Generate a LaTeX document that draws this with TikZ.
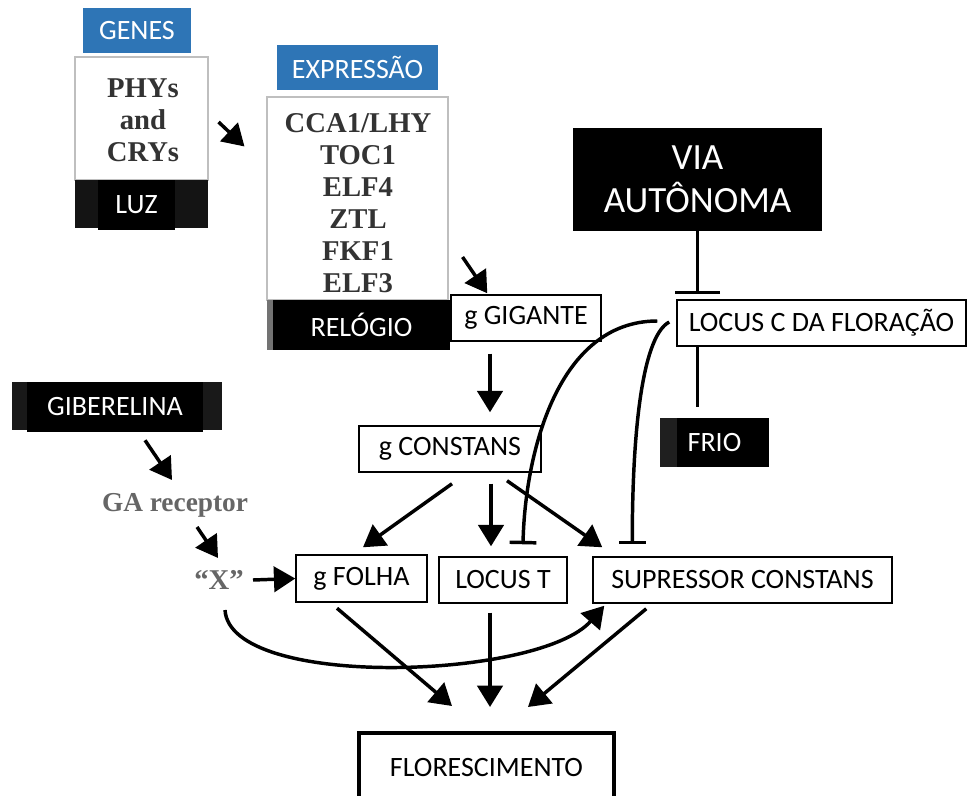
\documentclass[tikz,border=0pt]{standalone}
\usepackage{fontspec}
\setmainfont{Carlito}
\newfontfamily\timesfont{Liberation Serif}
\usetikzlibrary{arrows.meta,calc}
\definecolor{wordblue}{RGB}{46,117,182}
\begin{document}
\begin{tikzpicture}[x=0.75pt,y=-0.75pt,
  every node/.style={inner sep=0pt,font=\fontsize{21}{25}\selectfont},
  sz/.style 2 args={minimum width=#1,minimum height=#2},
  bluebox/.style={fill=wordblue,text=white},
  darkbox/.style={fill=black,text=white},
  genebox/.style={draw=black,line width=1.1pt,fill=white},
  listbox/.style={draw=black!25,line width=0.8pt,fill=white},
  serif/.style={font=\timesfont\bfseries\fontsize{21.5}{24}\selectfont,text=black!80,align=center},
  arr/.style={line width=2.6pt,-{Triangle[length=16pt,width=19pt]}},
  inh/.style={line width=2.6pt,-{Bar[width=#1]}},
  inh/.default=20pt]
\useasboundingbox (0,0) rectangle (968,796);
\clip (0,0) rectangle (968,796);

\node[bluebox,sz={81pt}{33.75pt}] (genes) at (137,30.5) {GENES};
\node[listbox,sz={99.75pt}{92.25pt}] (phybox) at (141.5,118.5) {};
\node[serif] (phy) at (143,120) {PHYs\\and\\CRYs};
\node[fill=black!92,sz={99.75pt}{36pt}] (luzband) at (141.5,204) {};
\node[darkbox,sz={57.75pt}{37.5pt}] (luz) at (136.5,205) {LUZ};

\node[bluebox,sz={120.75pt}{33.75pt}] (expressao) at (357.5,67.5) {EXPRESSÃO};
\node[listbox,sz={135.75pt}{152.25pt}] (exprbox) at (357.5,198.5) {};
\node[serif] (clock) at (358,203) {CCA1/LHY\\TOC1\\ELF4\\ZTL\\FKF1\\ELF3};
\node[fill=black!55,sz={137.25pt}{37.5pt}] (relogioband) at (358.5,325) {};
\node[darkbox,sz={132.75pt}{37.5pt}] (relogio) at (361.5,325) {RELÓGIO};

\node[genebox,sz={112.5pt}{34.5pt}] (gigante) at (526,318) {g GIGANTE};
\node[darkbox,sz={186.75pt}{77.25pt},align=center,font=\fontsize{27.75}{32}\selectfont] (via) at (697.5,179.5) {VIA\\AUTÔNOMA};
\node[genebox,sz={216.75pt}{34.5pt}] (locusc) at (821.5,323) {LOCUS C DA FLORAÇÃO};
\node[darkbox,sz={81.75pt}{36.75pt}] (frio) at (714.5,442.5) {FRIO};
\node[fill=black!88,sz={12.75pt}{36.75pt},anchor=west] (frioedge) at (frio.west) {};

\node[fill=black!90,sz={157.5pt}{36pt}] (gibband) at (117,406) {};
\node[darkbox,sz={132pt}{37.5pt}] (gib) at (115,407) {GIBERELINA};
\node[serif,text=black!60,font=\timesfont\bfseries\fontsize{20.5}{24}\selectfont] (garec) at (175,505) {GA receptor};
\node[serif,text=black!60] (xnode) at (219,580) {“X”};

\node[genebox,sz={136.5pt}{34.5pt}] (constans) at (450,449) {g CONSTANS};
\node[genebox,sz={98.25pt}{35.25pt}] (folha) at (361.5,578.5) {g FOLHA};
\node[genebox,sz={96pt}{34.5pt}] (locust) at (503,580) {LOCUS T};
\node[genebox,sz={224.25pt}{34.5pt}] (supr) at (742.5,580) {SUPRESSOR CONSTANS};
\node[draw=black,line width=3pt,fill=white,sz={191.25pt}{52.5pt}] (flores) at (486.5,768) {FLORESCIMENTO};

\draw[arr] ($(phybox.east)+(10,3.5)$) -- ($(exprbox.north west)+(-22,50)$);
\draw[arr] ($(exprbox.east)+(14,58.5)$) -- ($(gigante.north west)+(37,-1)$);
\draw[arr] ($(gigante.south)+(-36,12)$) -- ($(constans.north)+(40,-13)$);
\draw[arr] ($(gibband.south)+(28,10)$) -- ($(garec.center)+(-3,-25)$);
\draw[arr] ($(garec.center)+(22,22)$) -- ($(xnode.center)+(-1,-22)$);
\draw[arr] ($(xnode.center)+(34,0)$) -- (folha.west);
\draw[arr] ($(constans.south)+(2,11)$) -- ($(folha.north)+(1.5,-7)$);
\draw[arr] ($(constans.south)+(41,11)$) -- ($(locust.north)+(-12,-10)$);
\draw[arr] ($(constans.south)+(57,8)$) -- ($(supr.north west)+(10,-9)$);
\draw[arr] ($(folha.south)+(-24.5,5.5)$) -- ($(flores.north)+(-34.5,-25)$);
\draw[arr] ($(locust.south)+(-13,9)$) -- ($(flores.north)+(3.5,-24)$);
\draw[arr] ($(supr.south west)+(54,5)$) -- ($(flores.north)+(41.5,-24)$);
\draw[arr] ($(xnode.center)+(6,30)$) .. controls +(5,80) and +(-65,74) .. ($(supr.south west)+(12,2)$);

\draw[inh=34pt] (via.south) -- ($(via.south |- locusc.north)+(0,-5)$);
\draw[line width=2.6pt] (via.south |- locusc.south) -- ($(via.south |- frio.north)+(0,-11)$);
\draw[inh] ($(locusc.west)+(-19,-2)$) .. controls +(-100,0) and +(2,-90) .. ($(locust.north)+(20,-12)$);
\draw[inh] ($(locusc.west)+(-7,-1)$) .. controls +(-25,13) and +(0,-125) .. ($(supr.north west)+(40,-12)$);
\end{tikzpicture}
\end{document}
